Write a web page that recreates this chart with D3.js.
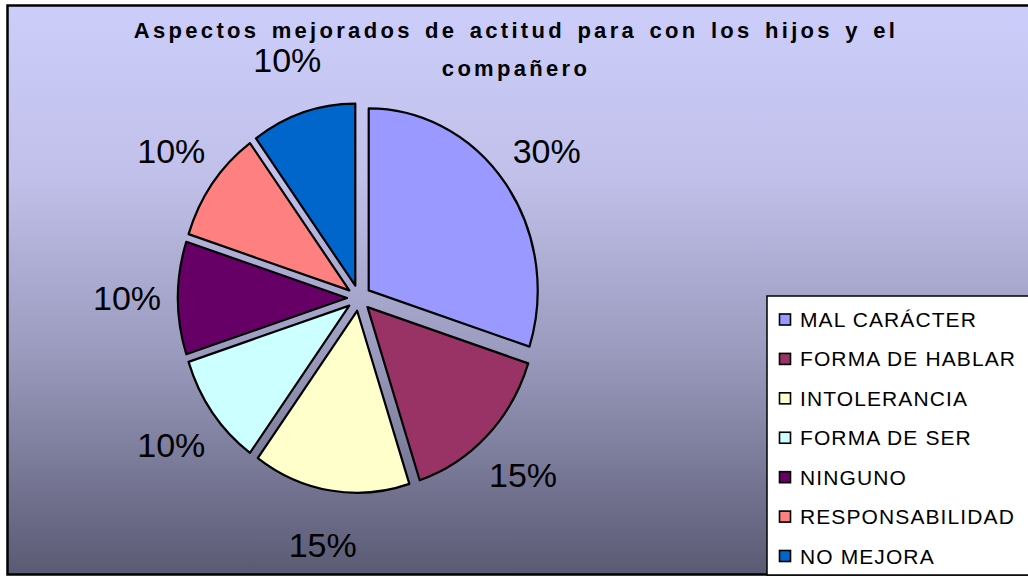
<!DOCTYPE html>
<html>
<head>
<meta charset="utf-8">
<script src="https://cdn.jsdelivr.net/npm/d3@7"></script>
<style>
  html, body { margin: 0; padding: 0; background: #fff; }
  svg { display: block; font-family: "Liberation Sans", Arial, sans-serif; }
</style>
</head>
<body>
<script>
const categories = ['MAL CARÁCTER', 'FORMA DE HABLAR', 'INTOLERANCIA', 'FORMA DE SER', 'NINGUNO', 'RESPONSABILIDAD', 'NO MEJORA'];
const values = [30, 15, 15, 10, 10, 10, 10];
const colors = ['#9999ff', '#993366', '#ffffcc', '#ccffff', '#660066', '#ff8080', '#0066cc'];
const titleLines = ['Aspectos mejorados de actitud para con los hijos y el', 'compañero'];

const width = 1028;
const height = 576;

const CX = 359;
const CY = 298;
const RADIUS = 169;
const Y_STRETCH = 1.077;
const EXPLODE = 12;
const LABEL_R = 232;

const svg = d3.select('body').append('svg')
  .attr('width', width)
  .attr('height', height)
;

const defs = svg.append('defs');
const grad = defs.append('linearGradient')
  .attr('id', 'bg')
  .attr('x1', 0).attr('y1', 0)
  .attr('x2', 0).attr('y2', 1)
;
[[0, '#cdcdfb'], [0.3, '#c0c0ea'], [0.6, '#9c9cc0'], [1, '#5a5a74']].forEach(([o, c]) => {
  grad.append('stop').attr('offset', o).attr('stop-color', c);
});

// chart frame
svg.append('rect')
  .attr('x', 7.5)
  .attr('y', 5.5)
  .attr('width', width + 10)
  .attr('height', 569)
  .attr('fill', 'url(#bg)')
  .attr('stroke', '#000')
  .attr('stroke-width', 2.5)
;

// title
const title = svg.append('text')
  .attr('text-anchor', 'middle')
  .attr('font-weight', 'bold')
  .attr('font-size', 22)
  .attr('letter-spacing', 3.3)
  .attr('word-spacing', 3)
  .attr('fill', '#000')
;
title.selectAll('tspan')
  .data(titleLines)
  .enter().append('tspan')
  .attr('x', 516)
  .attr('y', (d, i) => 38 + i * 38)
  .text(d => d)
;

const total = d3.sum(values);
const data = categories.map((c, i) => ({ name: c, value: values[i], color: colors[i] }));

const pie = d3.pie()
  .sort(null)
  .value(d => d.value)
;
const arcs = pie(data);
const arc = d3.arc()
  .innerRadius(0)
  .outerRadius(RADIUS)
;
const mid = a => (a.startAngle + a.endAngle) / 2;

const g = svg.append('g')
  .attr('transform', `translate(${CX},${CY}) scale(1,${Y_STRETCH})`)
;
g.selectAll('.slice')
  .data(arcs)
  .enter().append('path')
  .attr('class', 'slice')
  .attr('d', arc)
  .attr('transform', a => `translate(${Math.sin(mid(a)) * EXPLODE},${-Math.cos(mid(a)) * EXPLODE})`)
  .attr('fill', a => a.data.color)
  .attr('stroke', '#000')
  .attr('stroke-width', 2.2)
  .attr('stroke-linejoin', 'round')
  .attr('vector-effect', 'non-scaling-stroke')
;

svg.append('g')
  .selectAll('text')
  .data(arcs)
  .enter().append('text')
  .attr('x', a => CX + Math.sin(mid(a)) * LABEL_R)
  .attr('y', a => CY - Math.cos(mid(a)) * LABEL_R * Y_STRETCH)
  .attr('text-anchor', 'middle')
  .attr('dominant-baseline', 'central')
  .attr('font-size', 34)
  .attr('fill', '#000')
  .text(a => Math.round(a.data.value / total * 100) + '%')
;

// legend
const legend = svg.append('g')
  .attr('transform', 'translate(767,296)')
;
legend.append('rect')
  .attr('x', 0)
  .attr('y', 0)
  .attr('width', 300)
  .attr('height', 279)
  .attr('fill', '#fff')
  .attr('stroke', '#000')
  .attr('stroke-width', 1.5)
;
const rowY = d3.scalePoint()
  .domain(categories)
  .range([23.5, 260])
;
const item = legend.selectAll('.item')
  .data(data)
  .enter().append('g')
  .attr('class', 'item')
  .attr('transform', d => `translate(0,${rowY(d.name)})`)
;
item.append('rect')
  .attr('x', 12.5)
  .attr('y', -5.5)
  .attr('width', 11)
  .attr('height', 11)
  .attr('fill', d => d.color)
  .attr('stroke', '#000')
  .attr('stroke-width', 1.6)
;
item.append('text')
  .attr('x', 33)
  .attr('y', 0)
  .attr('dominant-baseline', 'central')
  .attr('font-size', 21)
  .attr('letter-spacing', 1.1)
  .attr('fill', '#000')
  .text(d => d.name)
;
</script>
</body>
</html>
